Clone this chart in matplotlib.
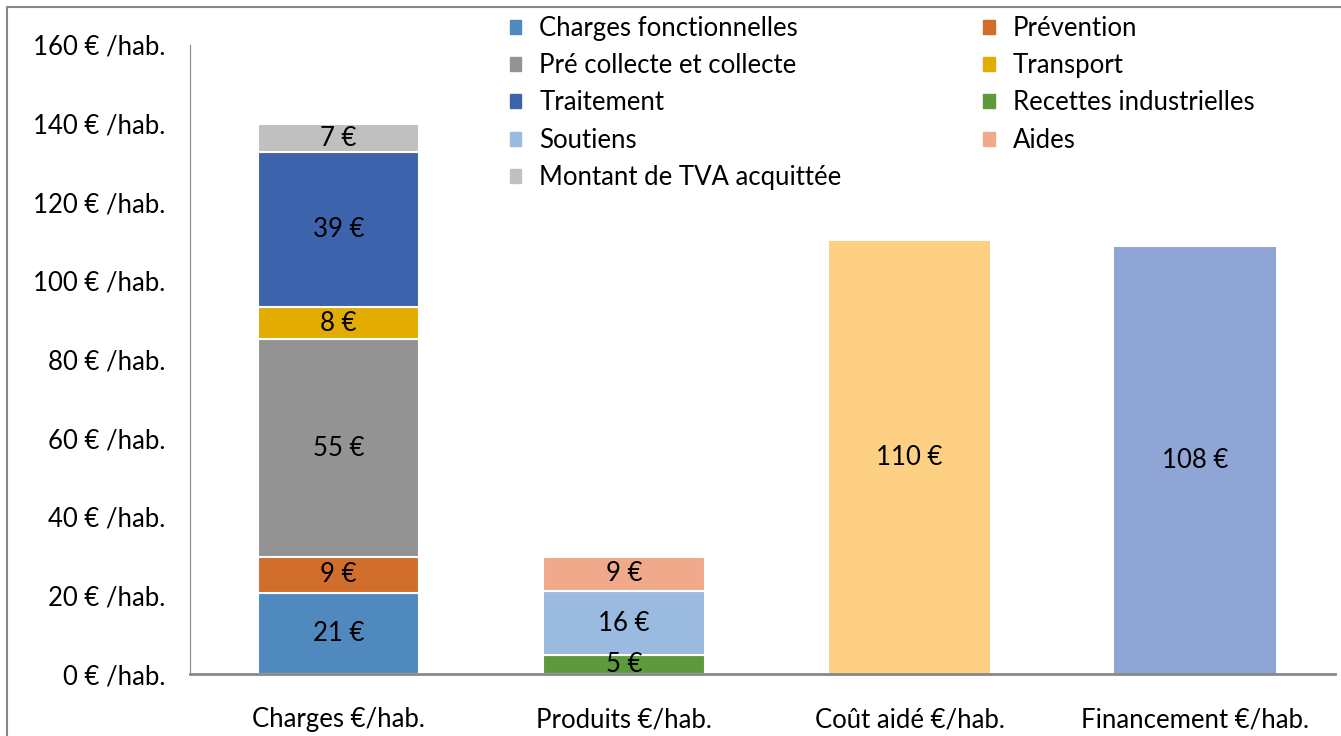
import matplotlib
matplotlib.use("Agg")
import matplotlib.pyplot as plt
from matplotlib.patches import Patch, Rectangle

plt.rcParams['font.family'] = ['Lato', 'DejaVu Sans']

# donnees (EUR / hab.)
categories = ["Charges €/hab.", "Produits €/hab.", "Coût aidé €/hab.", "Financement €/hab."]

charges_noms = ["Charges fonctionnelles", "Prévention", "Pré collecte et collecte",
                "Transport", "Traitement", "Montant de TVA acquittée"]
charges_vals = [20.6, 9.2, 55.3, 8.2, 39.4, 7.2]
charges_cols = ["#4f89bd", "#d26e2c", "#939393", "#e2ac00", "#3c63ab", "#c0c0c0"]

produits_noms = ["Recettes industrielles", "Soutiens", "Aides"]
produits_vals = [4.8, 16.3, 8.7]
produits_cols = ["#5c9a3c", "#9abadf", "#f0a98b"]

cout_aide = 110.1
financement = 108.5
cout_col = "#fdd083"
fin_col = "#8fa5d5"

fs = 18.5

fig = plt.figure(figsize=(13.41, 7.36), dpi=100)
ax = fig.add_axes([0.1417, 0.0842, 0.8538, 0.8547])

w = 0.567

# barre charges
bas = 0
for v, c in zip(charges_vals, charges_cols):
    ax.bar(0, v, w, bottom=bas, color=c, edgecolor="white", linewidth=1.5)
    ax.text(0, bas + v / 2, "%d €" % round(v), ha="center", va="center", fontsize=fs)
    bas = bas + v

# barre produits
bas = 0
for v, c in zip(produits_vals, produits_cols):
    ax.bar(1, v, w, bottom=bas, color=c, edgecolor="white", linewidth=1.5)
    ax.text(1, bas + v / 2, "%d €" % round(v), ha="center", va="center", fontsize=fs)
    bas = bas + v

ax.bar(2, cout_aide, w, color=cout_col)
ax.text(2, cout_aide / 2, "%d €" % round(cout_aide), ha="center", va="center", fontsize=fs)
ax.bar(3, financement, w, color=fin_col)
ax.text(3, financement / 2, "%d €" % round(financement), ha="center", va="center", fontsize=fs)

ax.set_xlim(-0.52, 3.49)
ax.set_ylim(0, 160)
ax.set_yticks(range(0, 161, 20))
ax.set_yticklabels(["%d € /hab." % t for t in range(0, 161, 20)], fontsize=fs)
ax.set_xticks(range(4))
ax.set_xticklabels(categories, fontsize=fs)
ax.tick_params(axis="y", length=0, pad=18)
ax.tick_params(axis="x", length=0, pad=24)

for s in ["top", "right"]:
    ax.spines[s].set_visible(False)
ax.spines["left"].set_color("#888888")
ax.spines["bottom"].set_color("#888888")
ax.spines["bottom"].set_linewidth(2)

# legende
ordre_noms = ["Charges fonctionnelles", "Pré collecte et collecte", "Traitement", "Soutiens",
              "Montant de TVA acquittée", "Prévention", "Transport", "Recettes industrielles", "Aides"]
couleurs = dict(zip(charges_noms + produits_noms, charges_cols + produits_cols))
handles = [Patch(color=couleurs[n], label=n) for n in ordre_noms]
fig.legend(handles=handles, ncol=2, loc="upper left", bbox_to_anchor=(0.363, 1.01),
           frameon=False, fontsize=fs, handlelength=0.45, handleheight=0.45,
           handletextpad=0.7, labelspacing=0.48, columnspacing=5.5)

# cadre
fig.add_artist(Rectangle((7 / 1341, -0.01), 1.0, 1 - 7 / 736 + 0.01, transform=fig.transFigure,
                         fill=False, edgecolor="#888888", linewidth=1.5))

fig.savefig("out.png", dpi=100)
